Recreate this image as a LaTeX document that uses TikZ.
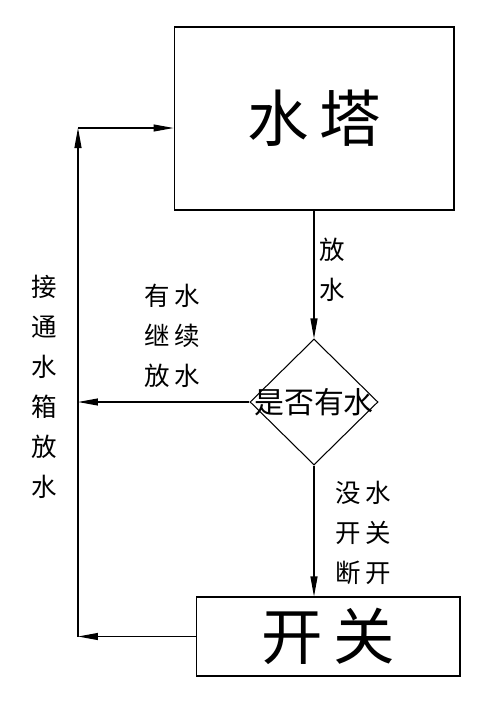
\documentclass[tikz,border=0pt]{standalone}
\usepackage{fontspec}
\setmainfont{Noto Sans CJK SC}
\usetikzlibrary{positioning,arrows.meta,shapes.geometric}

\begin{document}
\begin{tikzpicture}[x=0.02cm,y=-0.02cm,
    box/.style={draw,line width=0.6pt,rectangle,inner sep=0pt,
                font=\fontsize{35}{40}\selectfont},
    decision/.style={draw,line width=0.6pt,diamond,inner sep=0pt,
                     minimum width=2.56cm,minimum height=2.52cm},
    flow/.style={line width=0.6pt,-{Triangle[length=0.4cm,width=0.14cm]}},
    note/.style={align=center,font=\fontsize{14.5}{22.8}\selectfont}]
  \useasboundingbox (0,0) rectangle (500,707);
  % boxes
  \node[box,minimum width=5.6cm,minimum height=3.66cm] (tower) at (314,118.5) {水\,塔};
  \node[decision,label={[font=\fontsize{17}{20}\selectfont]center:是否有水}] (check) at (314,402) {};
  \node[box,minimum width=5.28cm,minimum height=1.58cm] (switch) at (328,636.5) {开\,关};
  % left return line
  \coordinate (cornerTop) at (78,128);
  \coordinate (cornerBot) at (78,636.5);
  % connectors
  \draw[flow] (tower.south) -- (check.north);
  \draw[flow] (check.south) -- (check.south |- switch.north);
  \draw[flow] (check.west) -- (check.west -| cornerBot);
  \draw[flow] (switch.west) -- (cornerBot);
  \draw[flow] (cornerBot) -- (cornerTop);
  \draw[flow] (cornerTop) -- (cornerTop -| tower.west);
  % labels
  \node[note] (pour) at (332,270) {放\\水};
  \node[note] (keep) at (172,336) {有\,水\\继\,续\\放\,水};
  \node[note] (cut) at (363,533) {没\,水\\开\,关\\断\,开};
  \node[note] (connect) at (44,387) {接\\通\\水\\箱\\放\\水};
\end{tikzpicture}
\end{document}
